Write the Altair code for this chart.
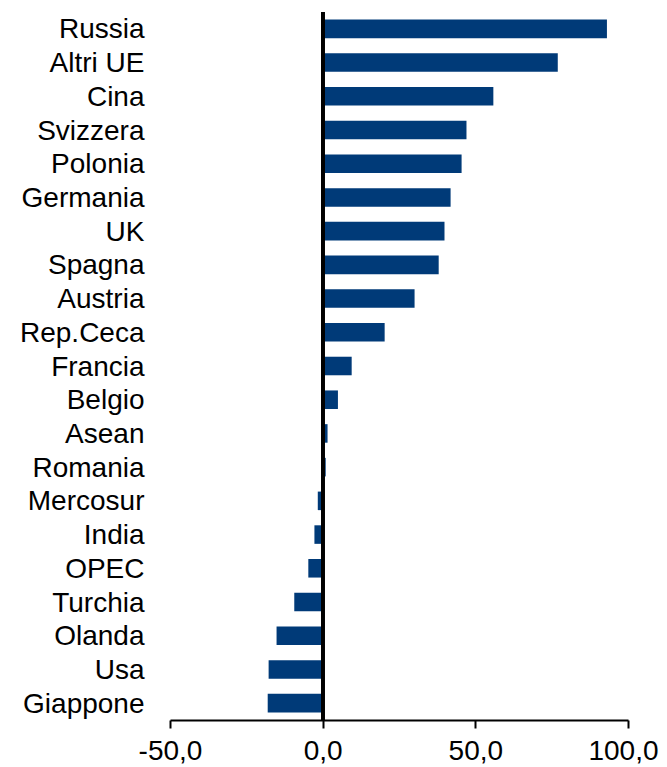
import altair as alt
import pandas as pd

categories = ["Russia", "Altri UE", "Cina", "Svizzera", "Polonia", "Germania", "UK",
              "Spagna", "Austria", "Rep.Ceca", "Francia", "Belgio", "Asean", "Romania",
              "Mercosur", "India", "OPEC", "Turchia", "Olanda", "Usa", "Giappone"]
values = [93.1, 77.0, 55.9, 47.1, 45.5, 41.9, 39.9, 38.0, 30.1, 20.3, 9.5, 5.0, 1.6, 1.0,
          -1.6, -2.7, -4.7, -9.3, -15.1, -17.7, -18.0]
tick_values = [-50, 0, 50, 100]

df = pd.DataFrame({"cat": categories, "val": values})

FONT = "Liberation Sans"

bars = alt.Chart(df).mark_bar(color="#003A78").encode(
    x=alt.X("val:Q",
            scale=alt.Scale(domain=[-50, 100], nice=False, zero=False),
            axis=alt.Axis(values=tick_values, title=None, grid=False,
                          domainColor="black", domainWidth=2,
                          tickColor="black", tickWidth=2, tickSize=8,
                          labelFont=FONT, labelFontSize=28, labelColor="black",
                          labelPadding=9, labelFlush=False,
                          labelOffset={"condition": {"test": "datum.value == 100", "value": -5}, "value": 0},
                          labelExpr="(datum.value < 0 ? '-' : '') + replace(format(abs(datum.value), '.1f'), '.', ',')")),
    y=alt.Y("cat:N", sort=None,
            scale=alt.Scale(paddingInner=0.45, paddingOuter=0.225),
            axis=alt.Axis(title=None, domain=False, ticks=False,
                          labelFont=FONT, labelFontSize=28, labelColor="black",
                          labelPadding=26, labelOffset=1.5)),
)

zero = alt.Chart(df).mark_rule(color="black", strokeWidth=3).encode(
    x=alt.datum(0)
)

chart = (bars + zero).properties(
    width=458, height=708,
    autosize=alt.AutoSizeParams(type="none"),
    padding={"left": 162, "top": 4, "right": 31, "bottom": 45},
).configure_view(stroke=None)

chart.save("out.html", embed_options={"renderer": "svg", "actions": False})
